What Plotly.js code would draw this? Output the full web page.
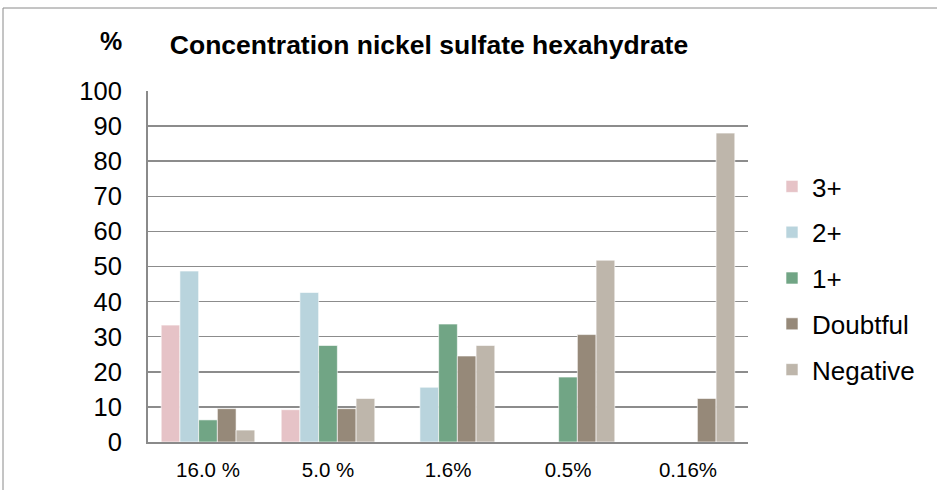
<!DOCTYPE html>
<html>
<head>
<meta charset="utf-8">
<script src="https://cdn.plot.ly/plotly-3.0.1.min.js"></script>
<style>
  html, body { margin: 0; padding: 0; background: #fff; }
  #chart { width: 937px; height: 490px; }
</style>
</head>
<body>
<div id="chart"></div>
<script>
const categories = ["16.0 %", "5.0 %", "1.6%", "0.5%", "0.16%"];
const seriesNames = ["3+", "2+", "1+", "Doubtful", "Negative"];
const v3plus    = [33.3, 9.2, 0, 0, 0];
const v2plus    = [48.7, 42.6, 15.6, 0, 0];
const v1plus    = [6.3, 27.5, 33.6, 18.5, 0];
const vDoubtful = [9.5, 9.5, 24.5, 30.6, 12.4];
const vNegative = [3.4, 12.4, 27.5, 51.8, 88.0];
const seriesValues = [v3plus, v2plus, v1plus, vDoubtful, vNegative];
const colors = ["#E6C3C7", "#B9D4DD", "#71A585", "#968979", "#BEB6AB"];
const yTicks = [0, 10, 20, 30, 40, 50, 60, 70, 80, 90, 100];

const FONT = "'Liberation Sans', Arial, sans-serif";

const traces = seriesNames.map((name, i) => ({
  type: "bar",
  name: name,
  x: categories,
  y: seriesValues[i],
  legendgroup: "g" + i,
  marker: { color: colors[i], line: { color: "rgba(255,255,255,0.6)", width: 1 } },
  hoverinfo: "skip"
}));

const L = 148, R = 189, T = 91, B = 48;
const W = 937, H = 490;
const pw = W - L - R, ph = H - T - B;

const layout = {
  width: W, height: H,
  margin: { l: L, r: R, t: T, b: B, pad: 0 },
  paper_bgcolor: "#ffffff",
  plot_bgcolor: "#ffffff",
  font: { family: FONT, color: "#000000" },
  barmode: "group",
  bargap: 0.22,
  bargroupgap: 0,
  title: {
    text: "<b>Concentration nickel sulfate hexahydrate</b>",
    font: { family: FONT, size: 26.5, color: "#000" },
    x: 429 / W, xanchor: "center", xref: "container",
    y: 1 - 45 / H, yanchor: "middle", yref: "container"
  },
  xaxis: {
    type: "category",
    showgrid: false,
    showline: true, linecolor: "#8a8a8a", linewidth: 2,
    ticks: "outside", ticklen: 8, tickcolor: "rgba(0,0,0,0)",
    tickfont: { family: FONT, size: 20.5, color: "#000" },
    zeroline: false,
    fixedrange: true
  },
  yaxis: {
    range: [0, 100],
    tickvals: yTicks,
    ticktext: yTicks.map(String),
    showgrid: true, gridcolor: "#8c8c8c", gridwidth: 1.5,
    showline: true, linecolor: "#8a8a8a", linewidth: 2,
    ticks: "outside", ticklen: 19, tickcolor: "rgba(0,0,0,0)",
    tickfont: { family: FONT, size: 25.5, color: "#000" },
    zeroline: false,
    fixedrange: true
  },
  legend: {
    x: (772 - L) / pw, xanchor: "left",
    y: (H - B - 163) / ph, yanchor: "top",
    font: { family: FONT, size: 26, color: "#000" },
    tracegroupgap: 9,
    bgcolor: "rgba(0,0,0,0)"
  },
  annotations: [{
    text: "<b>%</b>",
    xref: "paper", yref: "paper",
    x: (111 - L) / pw, y: (H - B - 41) / ph,
    xanchor: "center", yanchor: "middle",
    showarrow: false,
    font: { family: FONT, size: 25, color: "#000" }
  }],
  shapes: [
    { type: "line", xref: "paper", yref: "paper",
      x0: (3 - L) / pw, x1: (3 - L) / pw, y0: (H - B - 8) / ph, y1: (H - B - 500) / ph,
      line: { color: "#8a8a8a", width: 1 } },
    { type: "line", xref: "paper", yref: "paper",
      x0: (3 - L) / pw, x1: (1000 - L) / pw, y0: (H - B - 8) / ph, y1: (H - B - 8) / ph,
      line: { color: "#8a8a8a", width: 1 } }
  ]
};

Plotly.newPlot("chart", traces, layout, { displayModeBar: false, staticPlot: true });
</script>
</body>
</html>
